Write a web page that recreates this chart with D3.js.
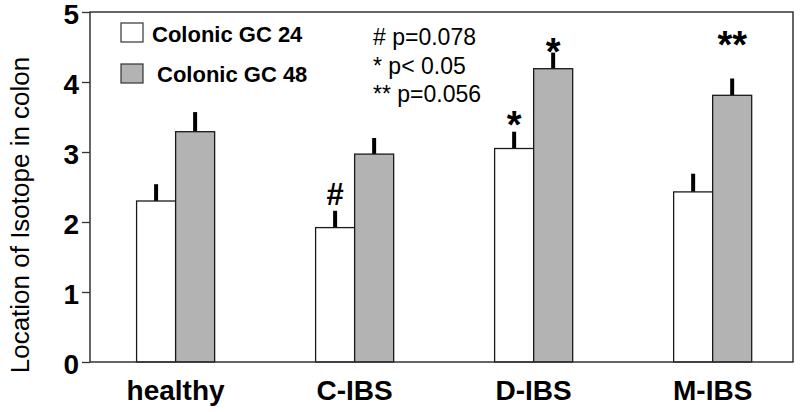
<!DOCTYPE html>
<html>
<head>
<meta charset="utf-8">
<script src="https://cdnjs.cloudflare.com/ajax/libs/d3/7.8.5/d3.min.js"></script>
<style>
  body { margin: 0; background: #fff; }
  svg { display: block; font-family: "Liberation Sans", Arial, sans-serif; }
</style>
</head>
<body>
<div id="chart"></div>
<script>
// data
const categories = ['healthy', 'C-IBS', 'D-IBS', 'M-IBS'];
const seriesNames = ['Colonic GC 24', 'Colonic GC 48'];
const gc24 = [2.30, 1.92, 3.05, 2.43];
const gc24Err = [0.24, 0.24, 0.24, 0.26];
const gc48 = [3.29, 2.97, 4.19, 3.81];
const gc48Err = [0.28, 0.23, 0.23, 0.24];
const yTicks = [0, 1, 2, 3, 4, 5];
const statLines = ['# p=0.078', '* p< 0.05', '** p=0.056'];
// significance marks: category, series index, label, level (data units) of mark bottom
const marks = [
  { cat: 'C-IBS', s: 0, label: '#', level: 2.24 },
  { cat: 'D-IBS', s: 0, label: '*', level: 3.36 },
  { cat: 'D-IBS', s: 1, label: '*', level: 4.41 },
  { cat: 'M-IBS', s: 1, label: '**', level: 4.50 }
];

const W = 800, H = 412;
const margin = { top: 12, right: 7, bottom: 50, left: 90 };
const width = W - margin.left - margin.right;
const height = H - margin.top - margin.bottom;
const fills = ['#ffffff', '#b3b3b3'];

const svg = d3.select('#chart').append('svg')
  .attr('width', W)
  .attr('height', H);
const g = svg.append('g')
  .attr('transform', `translate(${margin.left},${margin.top})`);

const x0 = d3.scaleBand().domain(categories).range([0, width])
  .paddingInner(0.564).paddingOuter(0.2455).align(0.53);
const x1 = d3.scaleBand().domain([0, 1]).range([0, x0.bandwidth()]);
const y = d3.scaleLinear().domain([0, 5]).range([height, 0]);

const rows = [];
categories.forEach((c, i) => {
  rows.push({ cat: c, s: 0, v: gc24[i], e: gc24Err[i] });
  rows.push({ cat: c, s: 1, v: gc48[i], e: gc48Err[i] });
});

// error bars (upper only)
g.selectAll('.err')
  .data(rows)
  .enter().append('line')
  .attr('class', 'err')
  .attr('x1', d => x0(d.cat) + x1(d.s) + x1.bandwidth() / 2)
  .attr('x2', d => x0(d.cat) + x1(d.s) + x1.bandwidth() / 2)
  .attr('y1', d => y(d.v))
  .attr('y2', d => y(d.v + d.e))
  .attr('stroke', '#000')
  .attr('stroke-width', 4);

// bars
g.selectAll('.bar')
  .data(rows)
  .enter().append('rect')
  .attr('class', 'bar')
  .attr('x', d => x0(d.cat) + x1(d.s))
  .attr('width', x1.bandwidth())
  .attr('y', d => y(d.v))
  .attr('height', d => y(0) - y(d.v))
  .attr('fill', d => fills[d.s])
  .attr('stroke', '#1a1a1a')
  .attr('stroke-width', 1.3);

// frame
g.append('rect')
  .attr('width', width)
  .attr('height', height)
  .attr('fill', 'none')
  .attr('stroke', '#333')
  .attr('stroke-width', 1.5);

// y axis
const yAxis = g.append('g')
  .call(d3.axisLeft(y).tickValues(yTicks).tickSize(8).tickPadding(3).tickFormat(d3.format('d')));
yAxis.select('.domain').remove();
yAxis.selectAll('line').attr('stroke', '#333').attr('stroke-width', 1.3);
yAxis.selectAll('text')
  .attr('dy', '0.42em')
  .attr('font-family', '"Liberation Sans", Arial, sans-serif')
  .attr('font-size', 28)
  .attr('font-weight', 'bold')
  .attr('fill', '#000');

// x axis labels
const xAxis = g.append('g')
  .attr('transform', `translate(0,${height})`)
  .call(d3.axisBottom(x0).tickSize(0));
xAxis.select('.domain').remove();
xAxis.selectAll('text')
  .attr('y', 38)
  .attr('dy', 0)
  .attr('font-family', '"Liberation Sans", Arial, sans-serif')
  .attr('font-size', 28)
  .attr('font-weight', 'bold')
  .attr('fill', '#000');

// y title
svg.append('text')
  .attr('transform', `translate(29,${margin.top + height / 2 + 28}) rotate(-90)`)
  .attr('text-anchor', 'middle')
  .attr('font-size', 26)
  .attr('fill', '#000')
  .text('Location of Isotope in colon');

// significance marks
g.selectAll('.mark')
  .data(marks)
  .enter().append('text')
  .attr('class', 'mark')
  .attr('x', d => x0(d.cat) + x1(d.s) + x1.bandwidth() / 2)
  .attr('y', d => y(d.level))
  .attr('dy', d => d.label === '#' ? 0 : '0.3em')
  .attr('text-anchor', 'middle')
  .attr('font-size', d => d.label === '#' ? 31 : 38)
  .attr('font-weight', 'bold')
  .attr('fill', '#000')
  .text(d => d.label);

// legend
const legend = g.append('g').attr('transform', 'translate(31,11)');
seriesNames.forEach((name, i) => {
  legend.append('rect')
    .attr('x', 0)
    .attr('y', i * 41)
    .attr('width', 22)
    .attr('height', 19)
    .attr('fill', fills[i])
    .attr('stroke', '#333')
    .attr('stroke-width', 1.2);
  legend.append('text')
    .attr('x', 31 + i * 5)
    .attr('y', 19 + i * 40)
    .attr('font-size', 22)
    .attr('font-weight', 'bold')
    .attr('fill', '#000')
    .text(name);
});

// p-value notes
g.append('g').selectAll('text')
  .data(statLines)
  .enter().append('text')
  .attr('x', 283)
  .attr('y', (d, i) => 33 + i * 28.5)
  .attr('font-size', 23)
  .attr('fill', '#000')
  .text(d => d);
</script>
</body>
</html>
